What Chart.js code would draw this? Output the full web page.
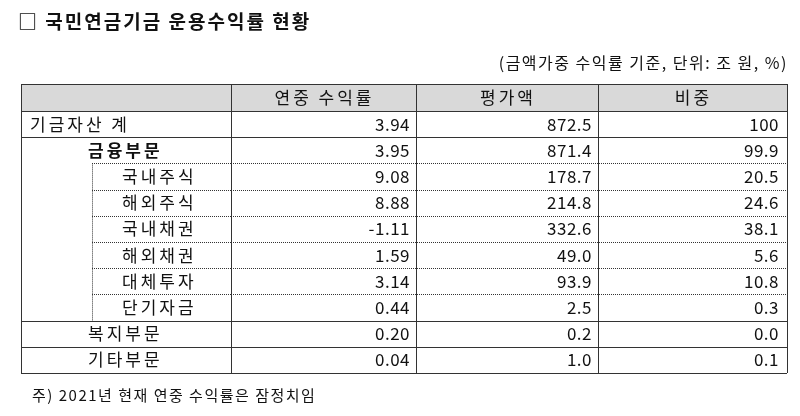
<!DOCTYPE html>
<html><head><meta charset="utf-8">
<script src="https://cdn.jsdelivr.net/npm/chart.js@4/dist/chart.umd.min.js"></script>
<style>html,body{margin:0;padding:0;background:#fff}#w{width:800px;height:416px}</style>
</head><body><div id="w"><canvas id="c"></canvas></div>
<script>
const title = "□ 국민연금기금 운용수익률 현황";
const subtitle = "(금액가중 수익률 기준, 단위: 조 원, %)";
const headers = ["", "연중 수익률", "평가액", "비중"];
const categories = ["기금자산 계","금융부문","국내주식","해외주식","국내채권","해외채권","대체투자","단기자금","복지부문","기타부문"];
const returns = ["3.94","3.95","9.08","8.88","-1.11","1.59","3.14","0.44","0.20","0.04"];
const amounts = ["872.5","871.4","178.7","214.8","332.6","49.0","93.9","2.5","0.2","1.0"];
const shares = ["100","99.9","20.5","24.6","38.1","5.6","10.8","0.3","0.0","0.1"];
const footnote = "주) 2021년 현재 연중 수익률은 잠정치임";
const levels = [0,1,2,2,2,2,2,2,1,1];

const F = '"Noto Sans CJK KR", "Noto Sans", sans-serif';
const tablePlugin = {
  id: 'table',
  afterDraw(chart) {
    const ctx = chart.ctx;
    ctx.save();
    ctx.fillStyle = '#fff'; ctx.fillRect(0,0,800,416);
    const L=21, R=787, T=84, HB=111, rh=26.2;
    const cols=[L,231,416,598,R];
    const bottom = HB + rh*categories.length;
    ctx.fillStyle='#d9d9d9'; ctx.fillRect(L,T,R-L,HB-T);
    ctx.fillStyle='#111';
    ctx.textBaseline='middle';
    ctx.letterSpacing='2px';
    ctx.font='bold 19px '+F; ctx.textAlign='left';
    ctx.fillText(title,18,22);
    ctx.font='16px '+F; ctx.textAlign='right';
    ctx.letterSpacing='1.5px';
    ctx.fillText(subtitle,788,63);
    ctx.textAlign='left';
    ctx.font='15px '+F;
    ctx.fillText(footnote,32,395);
    ctx.font='17px '+F; ctx.letterSpacing='3px';
    ctx.textAlign='center';
    for(let i=1;i<4;i++) ctx.fillText(headers[i],(cols[i]+cols[i+1])/2+1,T+(HB-T)/2);
    for(let r=0;r<categories.length;r++){
      const y=HB+rh*r+rh/2;
      const lv=levels[r];
      ctx.textAlign='left';
      ctx.letterSpacing='3px';
      ctx.font=(r===1?'bold ':'')+'17px '+F;
      ctx.fillText(categories[r], lv===0?30:(lv===1?88:122), y);
      ctx.font='17px '+F; ctx.textAlign='right'; ctx.letterSpacing='0.5px';
      ctx.fillText(returns[r],cols[2]-6,y);
      ctx.fillText(amounts[r],cols[3]-6,y);
      ctx.fillText(shares[r],cols[4]-8,y);
    }
    ctx.strokeStyle='#333'; ctx.lineWidth=1;
    const line=(x1,y1,x2,y2,dash)=>{ctx.beginPath();ctx.setLineDash(dash?[1,1]:[]);ctx.moveTo(x1,y1);ctx.lineTo(x2,y2);ctx.stroke();};
    line(L,T+0.5,R,T+0.5); line(L,HB+0.5,R,HB+0.5);
    for(let r=1;r<=categories.length;r++){
      const y=Math.round(HB+rh*r)+0.5;
      if(r>=2 && r<=7){ line(92,y,cols[1],y,true); line(cols[1],y,R,y,true); }
      else line(L,y,R,y,false);
    }
    for(const x of cols) line(x+0.5,T,x+0.5,bottom,false);
    line(92.5,HB+rh*2,92.5,HB+rh*8,true);
    ctx.restore();
  }
};
new Chart(document.getElementById('c'),{
  type:'bar',
  data:{labels:categories,datasets:[{data:[],label:''}]},
  options:{responsive:true,maintainAspectRatio:false,animation:false,
    plugins:{legend:{display:false},tooltip:{enabled:false}},
    scales:{x:{display:false},y:{display:false}}},
  plugins:[tablePlugin]
});
</script></body></html>
